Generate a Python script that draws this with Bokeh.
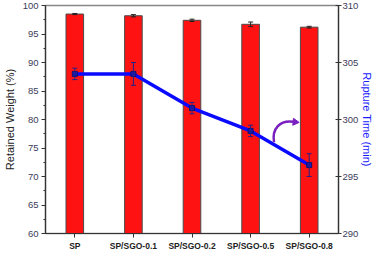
from bokeh.plotting import figure
from bokeh.models import Range1d, LinearAxis, FixedTicker, Whisker, ColumnDataSource
from bokeh.embed import file_html
from bokeh.resources import INLINE
import numpy as np

categories = ["SP", "SP/SGO-0.1", "SP/SGO-0.2", "SP/SGO-0.5", "SP/SGO-0.8"]
retained_weight = [98.5, 98.2, 97.4, 96.7, 96.2]
retained_err = [0.1, 0.2, 0.2, 0.4, 0.15]
rupture_time = [304.0, 304.0, 301.0, 299.0, 296.0]
rupture_err = [0.5, 1.0, 0.5, 0.5, 1.0]

xs = list(range(len(categories)))
bar_src = ColumnDataSource(dict(x=xs, top=retained_weight,
                                upper=[v + e for v, e in zip(retained_weight, retained_err)],
                                lower=[v - e for v, e in zip(retained_weight, retained_err)]))
line_src = ColumnDataSource(dict(x=xs, y=rupture_time,
                                 upper=[v + e for v, e in zip(rupture_time, rupture_err)],
                                 lower=[v - e for v, e in zip(rupture_time, rupture_err)]))

p = figure(width=376, height=253, output_backend="svg", toolbar_location=None,
           x_range=Range1d(-0.5, 4.5), y_range=Range1d(60, 100),
           min_border_top=5, min_border_right=0, min_border_left=0, min_border_bottom=0)
p.extra_y_ranges = {"rt": Range1d(290, 310)}
p.grid.visible = False
p.outline_line_color = "#888888"
p.outline_line_width = 1.5
p.background_fill_color = "white"
p.border_fill_color = "white"

tick_color = "#3c3c5a"

# bars
p.vbar(x="x", top="top", bottom=60, width=0.3, source=bar_src,
       fill_color="#ff1212", line_color="#4a4a4a", line_width=1)
wb = Whisker(source=bar_src, base="x", upper="upper", lower="lower",
             line_color="#222222", line_width=1, level="overlay")
wb.upper_head.size = 5
wb.lower_head.size = 5
wb.upper_head.line_color = "#222222"
wb.lower_head.line_color = "#222222"
p.add_layout(wb)

# line series
p.line("x", "y", source=line_src, y_range_name="rt", line_color="#0a0aff", line_width=3.5)
p.scatter("x", "y", source=line_src, y_range_name="rt", marker="square", size=5,
          fill_color="#1a1ab0", line_color="#101070")
wl = Whisker(source=line_src, base="x", upper="upper", lower="lower", y_range_name="rt",
             line_color="#20208a", line_width=1, level="overlay")
wl.upper_head.size = 5
wl.lower_head.size = 5
wl.upper_head.line_color = "#20208a"
wl.lower_head.line_color = "#20208a"
p.add_layout(wl)

# purple curved arrow annotation
p.bezier(x0=[3.40], y0=[298.0], x1=[3.74], y1=[299.8], cx0=[3.36], cy0=[299.2],
         cx1=[3.5], cy1=[300.0], y_range_name="rt", line_color="#7a1fc0", line_width=2.5)
p.scatter(x=[3.76], y=[299.78], y_range_name="rt", marker="triangle", angle=-np.pi / 2 - 0.1,
          size=7, fill_color="#7a1fc0", line_color="#7a1fc0")

# left axis
ya = p.yaxis[0]
ya.ticker = FixedTicker(ticks=list(range(60, 101, 5)),
                        minor_ticks=[60 + 2.5 * i for i in range(17)])
ya.axis_label = "Retained Weight (%)"
ya.axis_label_text_font = "Liberation Sans"
ya.axis_label_text_font_style = "normal"
ya.axis_label_text_font_size = "11px"
ya.axis_label_text_color = "#222222"
ya.axis_label_standoff = 4
ya.major_label_text_font = "Liberation Sans"
ya.major_label_text_font_size = "9.5px"
ya.major_label_text_color = tick_color
ya.major_label_standoff = 3
ya.axis_line_color = "#333333"
ya.axis_line_width = 1.2
ya.major_tick_line_color = "#333333"
ya.minor_tick_line_color = "#333333"
ya.major_tick_out = 4
ya.major_tick_in = 0
ya.minor_tick_out = 2
ya.minor_tick_in = 0

# right axis
ra = LinearAxis(y_range_name="rt", ticker=FixedTicker(ticks=list(range(290, 311, 5)), minor_ticks=[]))
ra.axis_label = "Rupture Time (min)"
ra.axis_label_text_font = "Liberation Sans"
ra.axis_label_text_font_style = "normal"
ra.axis_label_text_font_size = "11px"
ra.axis_label_text_color = "#1a1aff"
ra.axis_label_standoff = 0
ra.major_label_text_font = "Liberation Sans"
ra.major_label_text_font_size = "9.5px"
ra.major_label_text_color = tick_color
ra.major_label_standoff = 1
ra.axis_line_color = "#333333"
ra.axis_line_width = 1.2
ra.major_tick_line_color = "#333333"
ra.major_tick_out = 3
ra.major_tick_in = 3
p.add_layout(ra, "right")

# bottom axis
xa = p.xaxis[0]
xa.ticker = FixedTicker(ticks=xs, minor_ticks=[])
xa.major_label_overrides = {i: c for i, c in enumerate(categories)}
xa.axis_label = None
xa.major_label_text_font = "Liberation Sans"
xa.major_label_text_font_style = "bold"
xa.major_label_text_font_size = "8.5px"
xa.major_label_text_color = "#222222"
xa.major_label_standoff = 3
xa.axis_line_color = "#333333"
xa.axis_line_width = 1.2
xa.major_tick_line_color = "#333333"
xa.major_tick_out = 4
xa.major_tick_in = 0

open("out.html", "w").write(file_html(p, INLINE))
